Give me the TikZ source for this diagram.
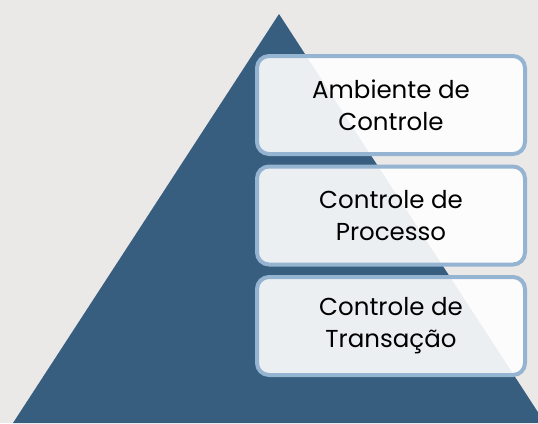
\documentclass[tikz,border=0pt]{standalone}
\usepackage{fontspec}
\setmainfont{Poppins}
\usepackage{xcolor}
\usetikzlibrary{positioning}

\definecolor{bggray}{HTML}{EBE8E8}
\definecolor{pyrblue}{HTML}{375E7E}
\definecolor{boxline}{HTML}{95B4D2}

\tikzset{
	levelbox/.style={draw=boxline, line width=4pt, fill=white, fill opacity=0.9, text opacity=1,
		rounded corners=12pt, minimum width=268pt, minimum height=98pt, align=center,
		font=\fontsize{24.5}{32}\selectfont, inner sep=0pt}
}

\begin{document}
\begin{tikzpicture}[x=1pt, y=-1pt]
		\useasboundingbox (0,0) rectangle (538,423);
		\fill[bggray] (0,0) rectangle (538,423);
		\clip (0,0) rectangle (538,423);
		\coordinate (apex) at (279,14);
		\coordinate (baseL) at (13,423);
		\coordinate (baseR) at (545,423);
		
		\fill[pyrblue] (apex) -- (baseL) -- (baseR) -- cycle;
		
		\node[levelbox] (ambiente) at (391,105) {Ambiente de\\Controle};
		\node[levelbox, below=8.5pt of ambiente] (processo) {Controle de\\Processo};
		\node[levelbox, below=8.5pt of processo] (transacao) {Controle de\\Transação};
	\end{tikzpicture}
\end{document}
